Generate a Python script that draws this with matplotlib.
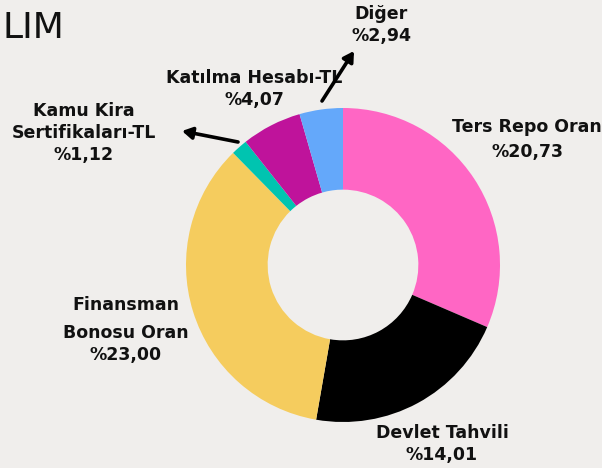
import matplotlib
matplotlib.use("Agg")
import matplotlib.pyplot as plt

categories = ["Ters Repo Oran", "Devlet Tahvili", "Finansman Bonosu Oran",
              "Kamu Kira Sertifikaları-TL", "Katılma Hesabı-TL", "Diğer"]
values = [20.73, 14.01, 23.00, 1.12, 4.07, 2.94]
value_labels = ["%20,73", "%14,01", "%23,00", "%1,12", "%4,07", "%2,94"]
colors = ["#FF66C4", "#000000", "#F5CC5E", "#00C4B0", "#BF139B", "#64A8FA"]
title = "LIM"

BG = "#F0EEEC"
W, H = 602, 468
fig = plt.figure(figsize=(W / 100, H / 100), dpi=100, facecolor=BG)
ax = fig.add_axes([0, 0, 1, 1])
ax.set_facecolor(BG)

def Y(py):
    return H - py

cx, cy, R = 343, Y(265), 157
ax.pie(values, colors=colors, startangle=90, counterclock=False,
       radius=R, center=(cx, cy), frame=True,
       wedgeprops=dict(width=R * 0.52, linewidth=0))
ax.set_xlim(0, W)
ax.set_ylim(0, H)
ax.set_aspect("equal")
ax.axis("off")

fam = ["DejaVu Sans"]
kw = dict(fontsize=12.5, fontweight="bold", ha="center", va="center",
          color="#111111", family=fam)

# label text lines (centers in pixel coords)
label_lines = [
    (["Ters Repo Oran", value_labels[0]], 527, [127, 152]),
    (["Devlet Tahvili", value_labels[1]], 442, [433, 455]),
    (["Finansman", "Bonosu Oran", value_labels[2]], 126, [305, 333, 355]),
    (["Kamu Kira", "Sertifikaları-TL", value_labels[3]], 84, [111, 133, 155]),
    (["Katılma Hesabı-TL", value_labels[4]], 254, [78, 100]),
    (["Diğer", value_labels[5]], 381, [14, 36]),
]
for lines, x, ys in label_lines:
    for t, y in zip(lines, ys):
        ax.text(x, Y(y), t, **kw)

# arrows for small slices
arrow_kw = dict(arrowstyle="-|>,head_length=0.6,head_width=0.35", color="black",
                lw=2.6, shrinkA=0, shrinkB=0)
ax.annotate("", xy=(182, Y(131)), xytext=(238, Y(142)), arrowprops=arrow_kw)
ax.annotate("", xy=(354, Y(51)), xytext=(322, Y(101)), arrowprops=arrow_kw)

ax.text(2, Y(38), title, fontsize=26, ha="left", va="baseline",
        color="#111111", family=fam)

fig.savefig("out.png", dpi=100, facecolor=BG)
